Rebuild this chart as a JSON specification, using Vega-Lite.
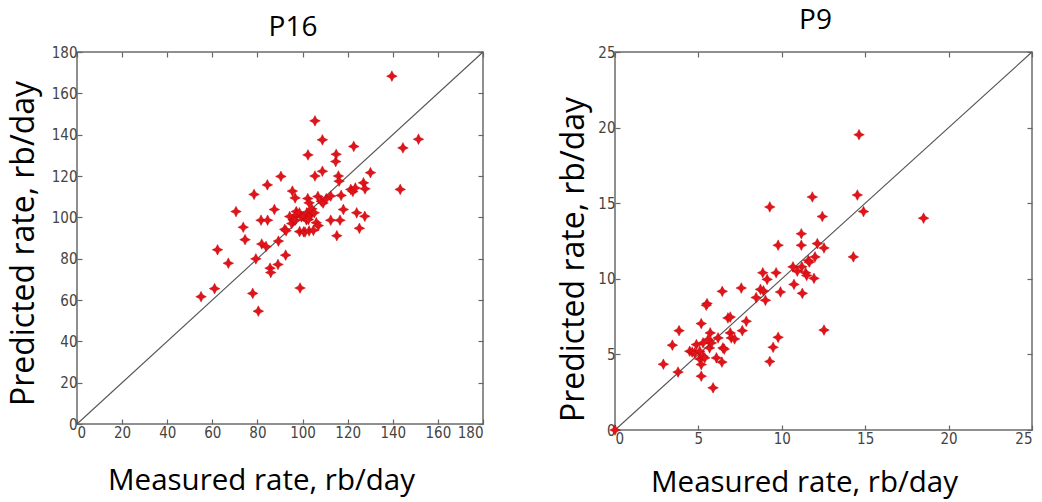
{
  "$schema": "https://vega.github.io/schema/vega-lite/v6.json",
  "background": "white",
  "padding": {"left": 6, "top": 6, "right": 5, "bottom": 5},
  "bounds": "flush",
  "spacing": 132,
  "config": {
    "view": {"stroke": "#6b6b6b", "strokeWidth": 1.5},
    "axis": {
      "grid": false,
      "domain": false,
      "ticks": true,
      "tickColor": "#666666",
      "tickSize": -5,
      "tickWidth": 1.2,
      "minExtent": 0,
      "labelFont": "Liberation Sans Narrow, DejaVu Sans Condensed, Liberation Sans",
      "labelFontSize": 15,
      "labelColor": "#444444",
      "titleFont": "Open Sans",
      "titleColor": "#000000",
      "titleFontWeight": "normal"
    },
    "axisX": {"labelPadding": 6},
    "axisY": {"labelPadding": 5},
    "title": {"font": "Open Sans", "fontSize": 28, "fontWeight": "normal", "color": "#000000"}
  },
  "datasets": {
    "diag16": [{"measured": 0, "predicted": 0}, {"measured": 180, "predicted": 180}],
    "diag9": [{"measured": 0, "predicted": 0}, {"measured": 25, "predicted": 25}],
    "p16": [
      {"measured": 55, "predicted": 61.6}, {"measured": 61, "predicted": 65.5}, {"measured": 62.3, "predicted": 84.3},
      {"measured": 67.1, "predicted": 77.8}, {"measured": 70.5, "predicted": 102.8}, {"measured": 73.7, "predicted": 95.2},
      {"measured": 74.5, "predicted": 89.2}, {"measured": 77.9, "predicted": 63.2}, {"measured": 78.5, "predicted": 111.1},
      {"measured": 79.3, "predicted": 79.9}, {"measured": 80.4, "predicted": 54.6}, {"measured": 81.6, "predicted": 98.6},
      {"measured": 81.9, "predicted": 87.1}, {"measured": 83.8, "predicted": 85.9}, {"measured": 84.5, "predicted": 98.6},
      {"measured": 84.4, "predicted": 115.7}, {"measured": 85.6, "predicted": 75.4}, {"measured": 85.9, "predicted": 73.3},
      {"measured": 87.5, "predicted": 103.8}, {"measured": 89.1, "predicted": 77.2}, {"measured": 89.3, "predicted": 88.5},
      {"measured": 90.4, "predicted": 119.8}, {"measured": 92.5, "predicted": 81.7}, {"measured": 92.1, "predicted": 94.2},
      {"measured": 92.7, "predicted": 93.5}, {"measured": 94.3, "predicted": 100.4}, {"measured": 95.2, "predicted": 97.0},
      {"measured": 95.8, "predicted": 98.8}, {"measured": 95.5, "predicted": 112.7}, {"measured": 96.7, "predicted": 109.4},
      {"measured": 96.7, "predicted": 98.6}, {"measured": 97.2, "predicted": 102.8}, {"measured": 97.4, "predicted": 101.3},
      {"measured": 98.6, "predicted": 102.2}, {"measured": 98.9, "predicted": 65.8}, {"measured": 98.7, "predicted": 93.1},
      {"measured": 99.5, "predicted": 100.2}, {"measured": 100.6, "predicted": 100.5}, {"measured": 100.5, "predicted": 93.0},
      {"measured": 101.1, "predicted": 92.9}, {"measured": 101.7, "predicted": 98.8}, {"measured": 101.9, "predicted": 102.2},
      {"measured": 102.3, "predicted": 109.1}, {"measured": 102.4, "predicted": 130.2}, {"measured": 102.6, "predicted": 98.9},
      {"measured": 102.9, "predicted": 93.4}, {"measured": 102.9, "predicted": 107.0}, {"measured": 103.8, "predicted": 101.3},
      {"measured": 103.9, "predicted": 102.8}, {"measured": 104.1, "predicted": 104.1}, {"measured": 104.8, "predicted": 93.7},
      {"measured": 105.2, "predicted": 102.2}, {"measured": 105.5, "predicted": 146.7}, {"measured": 105.5, "predicted": 120.0},
      {"measured": 106.1, "predicted": 97.4}, {"measured": 106.8, "predicted": 110.1}, {"measured": 107.0, "predicted": 96.0},
      {"measured": 108.3, "predicted": 107.8}, {"measured": 108.8, "predicted": 137.5}, {"measured": 108.8, "predicted": 122.3},
      {"measured": 109.1, "predicted": 106.9}, {"measured": 110.5, "predicted": 109.0}, {"measured": 112.5, "predicted": 110.3},
      {"measured": 112.5, "predicted": 98.6}, {"measured": 114.7, "predicted": 127.0}, {"measured": 114.9, "predicted": 130.5},
      {"measured": 115.2, "predicted": 91.1}, {"measured": 115.9, "predicted": 120.0}, {"measured": 116.2, "predicted": 117.5},
      {"measured": 116.6, "predicted": 98.6}, {"measured": 117.1, "predicted": 110.6}, {"measured": 118.1, "predicted": 103.8},
      {"measured": 121.4, "predicted": 113.5}, {"measured": 122.3, "predicted": 112.5}, {"measured": 122.7, "predicted": 134.3},
      {"measured": 123.4, "predicted": 114.2}, {"measured": 124.0, "predicted": 102.2}, {"measured": 125.2, "predicted": 94.7},
      {"measured": 127.0, "predicted": 116.7}, {"measured": 127.7, "predicted": 113.8}, {"measured": 127.6, "predicted": 100.5},
      {"measured": 130.1, "predicted": 121.6}, {"measured": 139.6, "predicted": 168.3}, {"measured": 143.3, "predicted": 113.5},
      {"measured": 144.5, "predicted": 133.6}, {"measured": 151.4, "predicted": 137.8}
    ],
    "p9": [
      {"measured": 0, "predicted": 0}, {"measured": 2.9, "predicted": 4.35}, {"measured": 3.44, "predicted": 5.61},
      {"measured": 3.78, "predicted": 3.83}, {"measured": 3.84, "predicted": 6.57}, {"measured": 4.48, "predicted": 5.21},
      {"measured": 4.63, "predicted": 5.15}, {"measured": 4.78, "predicted": 5.1}, {"measured": 4.88, "predicted": 5.65},
      {"measured": 5.08, "predicted": 5.21}, {"measured": 5.08, "predicted": 4.7}, {"measured": 5.17, "predicted": 4.33},
      {"measured": 5.17, "predicted": 3.56}, {"measured": 5.17, "predicted": 7.04}, {"measured": 5.28, "predicted": 5.76},
      {"measured": 5.28, "predicted": 4.88}, {"measured": 5.38, "predicted": 4.77}, {"measured": 5.52, "predicted": 8.36},
      {"measured": 5.47, "predicted": 8.25}, {"measured": 5.67, "predicted": 5.43}, {"measured": 5.71, "predicted": 6.42},
      {"measured": 5.78, "predicted": 5.76}, {"measured": 5.58, "predicted": 5.98}, {"measured": 5.88, "predicted": 2.79},
      {"measured": 6.08, "predicted": 4.77}, {"measured": 6.18, "predicted": 6.09}, {"measured": 6.41, "predicted": 4.49},
      {"measured": 6.43, "predicted": 9.17}, {"measured": 6.47, "predicted": 5.43}, {"measured": 6.55, "predicted": 5.35},
      {"measured": 6.77, "predicted": 7.41}, {"measured": 6.91, "predicted": 7.47}, {"measured": 6.91, "predicted": 6.42},
      {"measured": 6.97, "predicted": 6.09}, {"measured": 7.17, "predicted": 6.02}, {"measured": 7.57, "predicted": 9.39},
      {"measured": 7.63, "predicted": 6.57}, {"measured": 7.87, "predicted": 7.19}, {"measured": 8.46, "predicted": 8.76},
      {"measured": 8.72, "predicted": 9.3}, {"measured": 8.86, "predicted": 10.4}, {"measured": 8.9, "predicted": 9.2},
      {"measured": 9.02, "predicted": 8.58}, {"measured": 9.12, "predicted": 9.96}, {"measured": 9.28, "predicted": 14.75},
      {"measured": 9.28, "predicted": 4.53}, {"measured": 9.48, "predicted": 5.47}, {"measured": 9.66, "predicted": 10.4},
      {"measured": 9.78, "predicted": 12.22}, {"measured": 9.78, "predicted": 6.13}, {"measured": 9.92, "predicted": 9.13},
      {"measured": 10.67, "predicted": 10.79}, {"measured": 10.73, "predicted": 9.63}, {"measured": 10.93, "predicted": 10.51},
      {"measured": 11.17, "predicted": 12.98}, {"measured": 11.17, "predicted": 12.22}, {"measured": 11.23, "predicted": 9.04},
      {"measured": 11.2, "predicted": 10.8}, {"measured": 11.43, "predicted": 10.4}, {"measured": 11.49, "predicted": 10.22},
      {"measured": 11.59, "predicted": 11.21}, {"measured": 11.65, "predicted": 11.1}, {"measured": 11.83, "predicted": 15.41},
      {"measured": 11.93, "predicted": 10.03}, {"measured": 11.99, "predicted": 11.45}, {"measured": 12.13, "predicted": 12.33},
      {"measured": 12.43, "predicted": 14.12}, {"measured": 12.53, "predicted": 12.04}, {"measured": 12.53, "predicted": 6.61},
      {"measured": 14.29, "predicted": 11.45}, {"measured": 14.53, "predicted": 15.54}, {"measured": 14.63, "predicted": 19.53},
      {"measured": 14.9, "predicted": 14.45}, {"measured": 18.5, "predicted": 14.01}
    ]
  },
  "hconcat": [
    {
      "title": {"text": "P16", "offset": -19, "baseline": "alphabetic", "dx": 13},
      "width": 406,
      "height": 372,
      "layer": [
        {
          "data": {"name": "diag16"},
          "mark": {"type": "line", "color": "#555555", "strokeWidth": 1.1},
          "encoding": {
            "x": {"field": "measured", "type": "quantitative", "scale": {"domain": [0, 180], "nice": false},
                  "axis": {"orient": "top", "labels": false, "title": null, "minExtent": 0, "maxExtent": 0, "values": [0, 20, 40, 60, 80, 100, 120, 140, 160, 180]}},
            "y": {"field": "predicted", "type": "quantitative", "scale": {"domain": [0, 180], "nice": false},
                  "axis": {"orient": "right", "labels": false, "title": null, "minExtent": 0, "maxExtent": 0, "values": [0, 20, 40, 60, 80, 100, 120, 140, 160, 180]}}
          }
        },
        {
          "data": {"name": "p16"},
          "mark": {"type": "point", "shape": "M0,-1L0.34,-0.34L1,0L0.34,0.34L0,1L-0.34,0.34L-1,0L-0.34,-0.34Z", "filled": true, "size": 115, "color": "#e0141b", "stroke": "#c00000", "strokeWidth": 0.4, "opacity": 1},
          "encoding": {
            "x": {"field": "measured", "type": "quantitative", "scale": {"domain": [0, 180], "nice": false},
                  "axis": {"orient": "bottom", "title": "Measured rate, rb/day", "titleFontSize": 29.5, "titleX": 184, "titleY": 65, "titleBaseline": "alphabetic", "titleAlign": "center",
                           "values": [0, 20, 40, 60, 80, 100, 120, 140, 160, 180]}},
            "y": {"field": "predicted", "type": "quantitative", "scale": {"domain": [0, 180], "nice": false},
                  "axis": {"orient": "left", "title": "Predicted rate, rb/day", "titleFontSize": 32, "titleX": -44, "titleY": 191, "titleBaseline": "alphabetic", "titleAlign": "center", "titleAngle": 270,
                           "values": [0, 20, 40, 60, 80, 100, 120, 140, 160, 180]}}
          }
        }
      ],
      "resolve": {"axis": {"x": "independent", "y": "independent"}}
    },
    {
      "title": {"text": "P9", "offset": -12, "baseline": "alphabetic", "dx": -8},
      "width": 417,
      "height": 378,
      "layer": [
        {
          "data": {"name": "diag9"},
          "mark": {"type": "line", "color": "#555555", "strokeWidth": 1.1},
          "encoding": {
            "x": {"field": "measured", "type": "quantitative", "scale": {"domain": [0, 25], "nice": false},
                  "axis": {"orient": "top", "labels": false, "title": null, "minExtent": 0, "maxExtent": 0, "values": [0, 5, 10, 15, 20, 25]}},
            "y": {"field": "predicted", "type": "quantitative", "scale": {"domain": [0, 25], "nice": false},
                  "axis": {"orient": "right", "labels": false, "title": null, "minExtent": 0, "maxExtent": 0, "values": [0, 5, 10, 15, 20, 25]}}
          }
        },
        {
          "data": {"name": "p9"},
          "mark": {"type": "point", "shape": "M0,-1L0.34,-0.34L1,0L0.34,0.34L0,1L-0.34,0.34L-1,0L-0.34,-0.34Z", "filled": true, "size": 115, "color": "#e0141b", "stroke": "#c00000", "strokeWidth": 0.4, "opacity": 1},
          "encoding": {
            "x": {"field": "measured", "type": "quantitative", "scale": {"domain": [0, 25], "nice": false},
                  "axis": {"orient": "bottom", "title": "Measured rate, rb/day", "titleFontSize": 29.5, "titleX": 189, "titleY": 61, "titleBaseline": "alphabetic", "titleAlign": "center",
                           "values": [0, 5, 10, 15, 20, 25]}},
            "y": {"field": "predicted", "type": "quantitative", "scale": {"domain": [0, 25], "nice": false},
                  "axis": {"orient": "left", "title": "Predicted rate, rb/day", "titleFontSize": 32, "titleX": -32, "titleY": 207, "titleBaseline": "alphabetic", "titleAlign": "center", "titleAngle": 270,
                           "values": [0, 5, 10, 15, 20, 25]}}
          }
        }
      ],
      "resolve": {"axis": {"x": "independent", "y": "independent"}}
    }
  ]
}
